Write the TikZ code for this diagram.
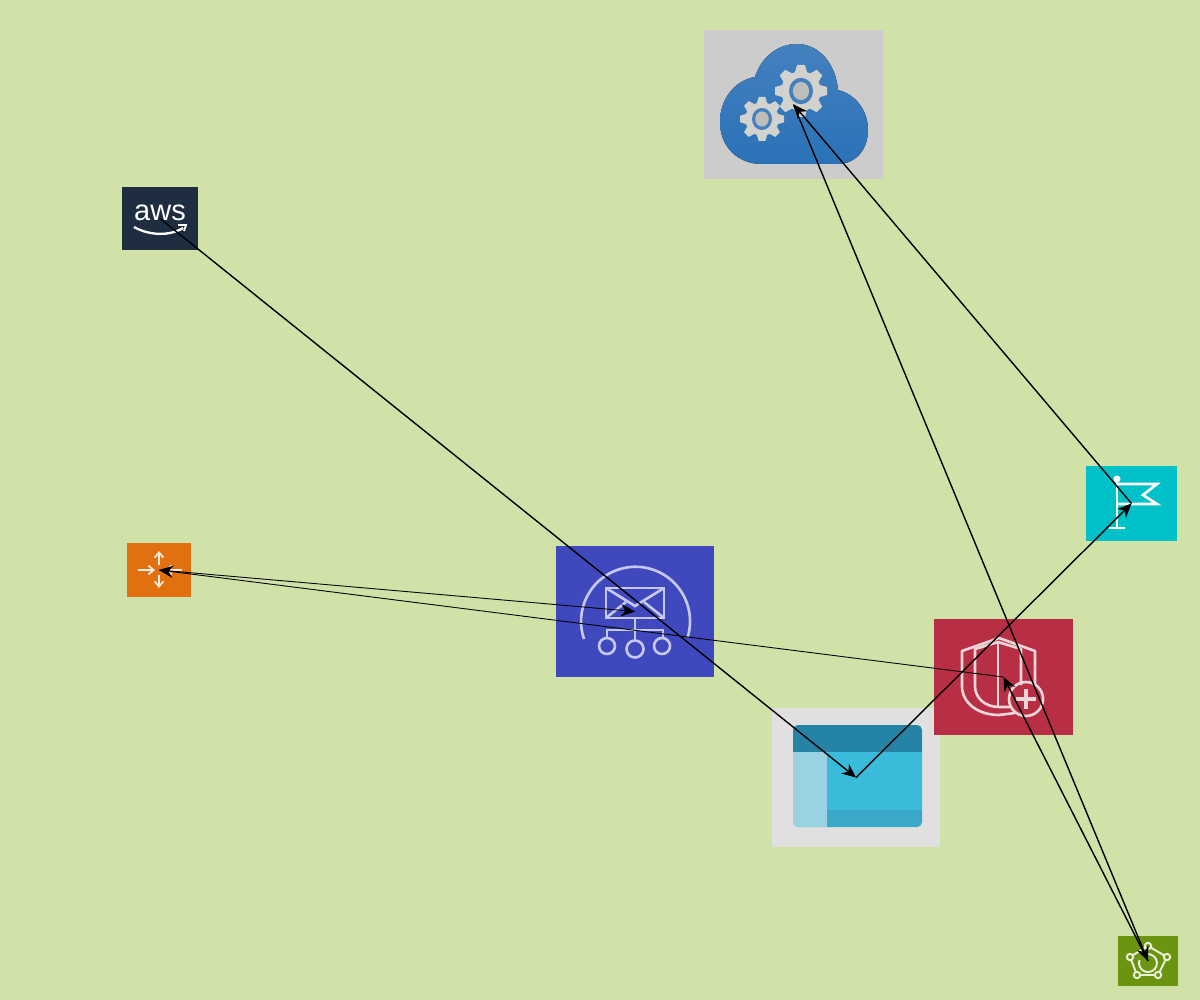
\documentclass[tikz,border=0pt]{standalone}
\usepackage{fontspec}
\setmainfont{Liberation Sans}
\usetikzlibrary{arrows.meta}
\definecolor{bgc}{HTML}{D0E2A8}
\definecolor{cloudbg}{HTML}{CCCCCC}
\definecolor{cloudtop}{HTML}{4480BE}
\definecolor{cloudbot}{HTML}{2A72B8}
\definecolor{gearc}{HTML}{D2D2CE}
\definecolor{awsc}{HTML}{1E2D40}
\definecolor{orangec}{HTML}{E07010}
\definecolor{snsc}{HTML}{4048BD}
\definecolor{snsl}{HTML}{C4C8EE}
\definecolor{shieldc}{HTML}{B82F45}
\definecolor{shieldl}{HTML}{EBD5D8}
\definecolor{flagc}{HTML}{00C0C8}
\definecolor{greenc}{HTML}{6B9510}
\definecolor{storebg}{HTML}{E0E0E0}
\definecolor{storehead}{HTML}{2583A6}
\definecolor{storeleft}{HTML}{9AD1E3}
\definecolor{storemain}{HTML}{3ABBD9}
\definecolor{storestrip}{HTML}{3AA8C8}
\newcommand{\mygear}[3]{% centre, outer radius, ring radius
  \begin{scope}[shift={#1}]
    \foreach \a in {0,45,...,315}
      \fill[gearc,rotate=\a] (-0.24*#2,0.7*#2) -- (-0.15*#2,#2) -- (0.15*#2,#2) -- (0.24*#2,0.7*#2) -- cycle;
    \fill[gearc] (0,0) circle (0.76*#2);
    \fill[cloudtop] (0,0) ellipse (#3 and 1.1*#3);
    \fill[gearc!90!black] (0,0) ellipse (0.68*#3 and 0.76*#3);
  \end{scope}}
\tikzset{
  tile/.style n args={3}{rectangle,inner sep=0pt,outer sep=0pt,fill=#3,minimum width=#1*0.02cm,minimum height=#2*0.02cm},
  link/.style={-{Stealth[length=8pt,width=7pt]},black,line width=0.8pt},
  thinlink/.style={link,line width=0.5pt},
  snsline/.style={draw=snsl,line width=1.5pt},
  shline/.style={draw=shieldl,line width=1.5pt,line join=round},
  wline/.style={draw=white,line width=1.5pt},
  gline/.style={draw=white!85!greenc,line width=1.1pt}
}
\begin{document}
\begin{tikzpicture}[x=0.02cm,y=-0.02cm]
\fill[bgc] (0,0) rectangle (1200,1000);
\useasboundingbox (0,0) rectangle (1200,1000);
% tiles
\node[tile={179}{149}{cloudbg}] (cloud) at (793.5,104.5) {};
\node[tile={76}{63}{awsc}] (aws) at (160,218.5) {};
\node[tile={64}{54}{orangec}] (orange) at (159,570) {};
\node[tile={158}{131}{snsc}] (sns) at (635,611.5) {};
\node[tile={168}{139}{storebg}] (store) at (856,777.5) {};
\node[tile={139}{116}{shieldc}] (shield) at (1003.5,677) {};
\node[tile={91}{75}{flagc}] (flag) at (1131.5,503.5) {};
\node[tile={60}{50}{greenc}] (green) at (1148,961) {};
% cloud icon
\fill[top color=cloudtop,bottom color=cloudbot] (762,164) .. controls (737,164) and (720,146) .. (720,122) .. controls (720,98) and (736,80) .. (755,77) .. controls (761,58) and (777,44) .. (797,44) .. controls (820,44) and (836,65) .. (838,90) .. controls (855,94) and (868,110) .. (868,130) .. controls (868,150) and (855,164) .. (838,164) -- cycle;
\mygear{(801,91)}{26}{12}
\mygear{(762,119)}{22}{10}
% aws icon
\node[text=white,font=\fontsize{16.5pt}{17pt}\selectfont,inner sep=0pt] (awstext) at (160,213) {aws};
\draw[white,line width=1.3pt] (134,227) .. controls (150,236) and (170,236) .. (183,228);
\draw[white,line width=1pt] (178,225) -- (186,225) -- (184,231);
% orange icon
\begin{scope}[white!85!orangec,line width=1pt,-{Straight Barb[length=3pt,width=5pt]}]
\draw (138,570) -- (155,570);
\draw (182,570) -- (165,570);
\draw (159,565) -- (159,551);
\draw (159,575) -- (159,588);
\end{scope}
% sns icon
\draw[snsline] (584,639) arc[start angle=161,end angle=377,radius=54.5];
\draw[snsline] (606,588) rectangle (664,618);
\draw[snsline] (606,588) -- (635,606) -- (664,588);
\draw[snsline] (606,618) -- (626,602);
\draw[snsline] (664,618) -- (644,602);
\draw[snsline] (635,618) -- (635,641);
\draw[snsline] (607,638) -- (607,630) -- (663,630) -- (663,638);
\draw[snsline] (607,646) circle (8);
\draw[snsline] (635,649) circle (8.5);
\draw[snsline] (662,646) circle (8);
% store icon
\fill[storemain,rounded corners=3pt] (793,725) rectangle (922,827);
\begin{scope}
\clip[rounded corners=3pt] (793,725) rectangle (922,827);
\fill[storehead] (793,725) rectangle (922,752);
\fill[storeleft] (793,752) rectangle (827,827);
\fill[storestrip] (827,810) rectangle (922,827);
\end{scope}
% shield icon
\draw[shline] (1035,685) -- (1035,651) -- (999,638) -- (962,651) -- (962,686) .. controls (962,703) and (978,715) .. (999,715) -- (1015,713);
\draw[shline] (1021,685) -- (1021,649) -- (998,642) -- (975,649) -- (975,686) .. controls (975,698) and (985,707) .. (999,707) -- (1010,707);
\draw[shline] (998,643) -- (998,707);
\draw[shline] (1026,699) circle (17);
\draw[shline,line width=1.9pt] (1016,699) -- (1036,699) (1026,689) -- (1026,709);
% flag icon
\fill[white] (1117,479) circle (3.5);
\draw[wline] (1117,482) -- (1117,528) (1109,528) -- (1125,528);
\draw[wline] (1117,484) -- (1157,484) -- (1143,495) -- (1157,504) -- (1117,504);
% green icon
\draw[gline] (1148,946) -- (1167,957) -- (1158,975) -- (1137,975) -- (1130,957) -- cycle;
\foreach \p in {(1148,946),(1167,957),(1158,975),(1137,975),(1130,957)}
  \filldraw[gline,fill=greenc] \p circle (3.2);
\draw[gline] (1139.5,960) arc[start angle=200,end angle=-110,radius=9];
% connectors
\draw[link] (aws.center) -- (store.center);
\draw[link] (store.center) -- (flag.center);
\draw[link] (flag.center) -- (cloud.center);
\draw[link] (cloud.center) -- (green.center);
\draw[link] (green.center) -- (shield.center);
\draw[thinlink] (shield.center) -- (orange.center);
\draw[thinlink] (orange.center) -- (sns.center);
\end{tikzpicture}
\end{document}
